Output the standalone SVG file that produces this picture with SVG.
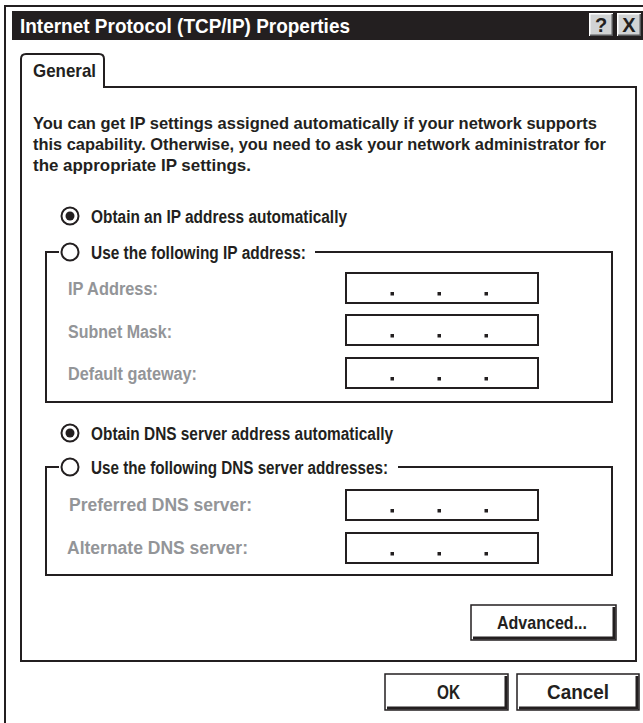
<svg xmlns="http://www.w3.org/2000/svg" width="643" height="723" viewBox="0 0 643 723">
<style>
.ln{fill:none;stroke:#231f20;stroke-width:2}
.t{font-family:"Liberation Sans",Arial,sans-serif;font-weight:bold;fill:#231f20}
.w{fill:#fff}
.g{fill:#939598}
.p{font-size:17px}
.r{font-size:18px}
.l{font-size:17.5px}
.box{fill:#fff;stroke:#231f20;stroke-width:2}
.dot{fill:#231f20}
.tb{fill:#d1d3d4}
.hl{fill:none;stroke:#fff;stroke-width:1.5}
.sh{fill:none;stroke:#58595b;stroke-width:1.5}
.btn{fill:#fff;stroke:#231f20;stroke-width:1.5}
.bsh{fill:none;stroke:#231f20;stroke-width:3}
.c{text-anchor:middle}
</style>
<rect width="643" height="723" fill="#fff"/>
<g id="window">
<path class="ln" d="M5,723 V6 H643"/>
</g>
<g id="titlebar">
<rect x="12" y="11" width="631" height="29" fill="#231f20"/>
<text class="t w" x="20" y="33" font-size="21" textLength="330" lengthAdjust="spacingAndGlyphs">Internet Protocol (TCP/IP) Properties</text>
</g>
<g id="help-button">
<rect class="tb" x="589" y="13" width="24" height="23"/>
<path class="hl" d="M589.75,36 V13.75 H613"/>
<path class="sh" d="M590,35.25 H612.25 V14"/>
<text class="t c" x="601" y="32" font-size="20">?</text>
</g>
<g id="close-button">
<rect class="tb" x="617" y="13" width="24" height="23"/>
<path class="hl" d="M617.75,36 V13.75 H641"/>
<path class="sh" d="M618,35.25 H640.25 V14"/>
<text class="t c" x="629" y="32" font-size="20">X</text>
</g>
<g id="tab-panel">
<path class="ln" d="M21,661 V59 Q21,54 26,54 H99 Q104,54 104,59 V87 H636 V661 Z"/>
<text class="t" x="33" y="77" font-size="19" textLength="63" lengthAdjust="spacingAndGlyphs">General</text>
</g>
<g id="description">
<text class="t p" x="33" y="129" textLength="564" lengthAdjust="spacingAndGlyphs">You can get IP settings assigned automatically if your network supports</text>
<text class="t p" x="33" y="150" textLength="573" lengthAdjust="spacingAndGlyphs">this capability. Otherwise, you need to ask your network administrator for</text>
<text class="t p" x="33" y="171" textLength="218" lengthAdjust="spacingAndGlyphs">the appropriate IP settings.</text>
</g>
<g id="radio-ip-auto">
<circle class="box" cx="70" cy="216" r="8.5"/>
<circle class="dot" cx="70" cy="216" r="4.5"/>
<text class="t r" x="91" y="222.5" textLength="256" lengthAdjust="spacingAndGlyphs">Obtain an IP address automatically</text>
</g>
<g id="group-ip">
<path class="ln" d="M59,252 H46 V402 H612 V252 H315"/>
<circle class="box" cx="70" cy="252" r="8.5"/>
<text class="t r" x="91" y="258.5" textLength="215" lengthAdjust="spacingAndGlyphs">Use the following IP address:</text>
</g>
<g id="field-ip-address">
<text class="t l g" x="68" y="295" textLength="90" lengthAdjust="spacingAndGlyphs">IP Address:</text>
<rect class="box" x="346" y="273" width="192" height="30"/>
<rect class="dot" x="390.5" y="292" width="3.5" height="3.5"/>
<rect class="dot" x="437.5" y="292" width="3.5" height="3.5"/>
<rect class="dot" x="484.5" y="292" width="3.5" height="3.5"/>
</g>
<g id="field-subnet-mask">
<text class="t l g" x="68" y="338" textLength="104" lengthAdjust="spacingAndGlyphs">Subnet Mask:</text>
<rect class="box" x="346" y="315" width="192" height="30"/>
<rect class="dot" x="390.5" y="334" width="3.5" height="3.5"/>
<rect class="dot" x="437.5" y="334" width="3.5" height="3.5"/>
<rect class="dot" x="484.5" y="334" width="3.5" height="3.5"/>
</g>
<g id="field-default-gateway">
<text class="t l g" x="68" y="380" textLength="129" lengthAdjust="spacingAndGlyphs">Default gateway:</text>
<rect class="box" x="346" y="358" width="192" height="30"/>
<rect class="dot" x="390.5" y="377" width="3.5" height="3.5"/>
<rect class="dot" x="437.5" y="377" width="3.5" height="3.5"/>
<rect class="dot" x="484.5" y="377" width="3.5" height="3.5"/>
</g>
<g id="radio-dns-auto">
<circle class="box" cx="70" cy="433" r="8.5"/>
<circle class="dot" cx="70" cy="433" r="4.5"/>
<text class="t r" x="91" y="439.5" textLength="302" lengthAdjust="spacingAndGlyphs">Obtain DNS server address automatically</text>
</g>
<g id="group-dns">
<path class="ln" d="M59,467 H46 V575 H612 V467 H398"/>
<circle class="box" cx="70" cy="467" r="8.5"/>
<text class="t r" x="91" y="473.5" textLength="297" lengthAdjust="spacingAndGlyphs">Use the following DNS server addresses:</text>
</g>
<g id="field-preferred-dns">
<text class="t l g" x="69" y="511" textLength="183" lengthAdjust="spacingAndGlyphs">Preferred DNS server:</text>
<rect class="box" x="346" y="490" width="192" height="30"/>
<rect class="dot" x="390.5" y="509" width="3.5" height="3.5"/>
<rect class="dot" x="437.5" y="509" width="3.5" height="3.5"/>
<rect class="dot" x="484.5" y="509" width="3.5" height="3.5"/>
</g>
<g id="field-alternate-dns">
<text class="t l g" x="67" y="554" textLength="181" lengthAdjust="spacingAndGlyphs">Alternate DNS server:</text>
<rect class="box" x="346" y="533" width="192" height="30"/>
<rect class="dot" x="390.5" y="552" width="3.5" height="3.5"/>
<rect class="dot" x="437.5" y="552" width="3.5" height="3.5"/>
<rect class="dot" x="484.5" y="552" width="3.5" height="3.5"/>
</g>
<g id="button-advanced">
<rect class="btn" x="471" y="605" width="145" height="35"/>
<path class="bsh" d="M614,607 V638 H473"/>
<text class="t" x="497" y="628.5" font-size="19" textLength="90" lengthAdjust="spacingAndGlyphs">Advanced...</text>
</g>
<g id="button-ok">
<rect class="btn" x="385" y="674" width="123" height="36"/>
<path class="bsh" d="M506,676 V708 H387"/>
<text class="t" x="437" y="698.5" font-size="20" textLength="23" lengthAdjust="spacingAndGlyphs">OK</text>
</g>
<g id="button-cancel">
<rect class="btn" x="517" y="674" width="122" height="36"/>
<path class="bsh" d="M637,676 V708 H519"/>
<text class="t" x="547" y="698.5" font-size="20" textLength="62" lengthAdjust="spacingAndGlyphs">Cancel</text>
</g>
</svg>
